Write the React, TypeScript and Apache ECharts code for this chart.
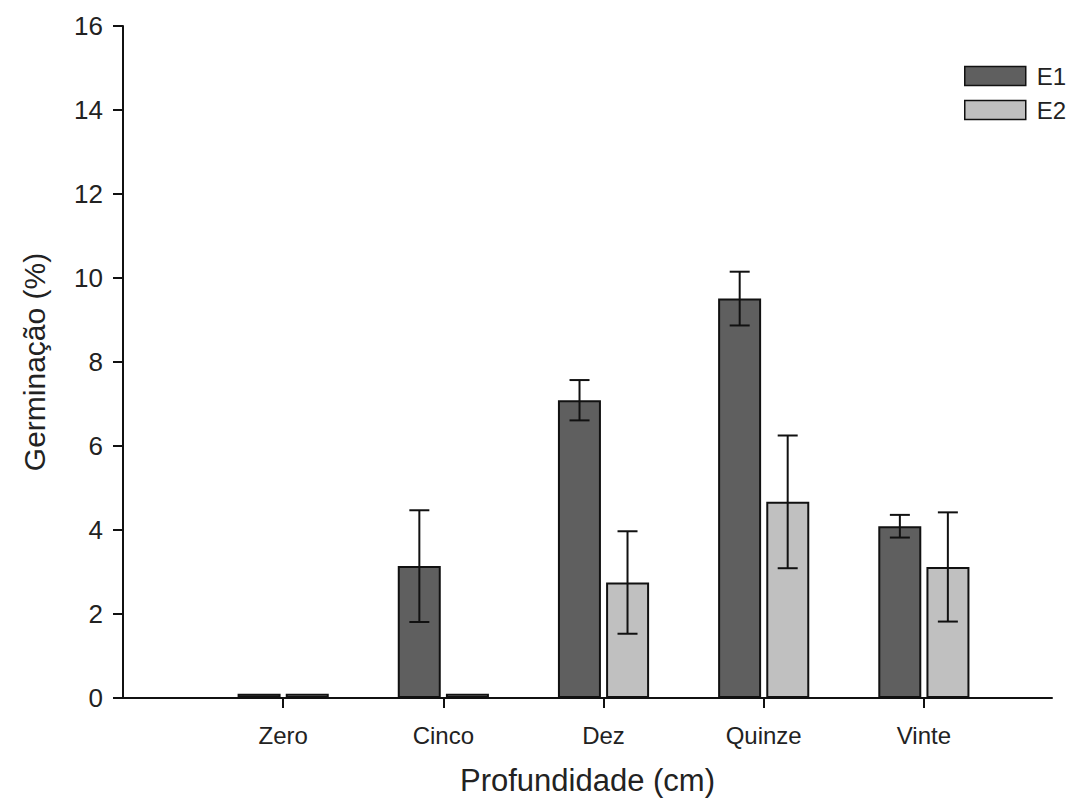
import React, { useEffect, useRef } from "react";
import * as echarts from "echarts";

const categories = ["Zero", "Cinco", "Dez", "Quinze", "Vinte"];
const e1Mean = [0.1, 3.14, 7.09, 9.51, 4.09];
const e1Err = [0, 1.33, 0.48, 0.64, 0.27];
const e2Mean = [0.1, 0.1, 2.75, 4.67, 3.12];
const e2Err = [0, 0, 1.22, 1.58, 1.3];
const catPositions = [1, 2, 3, 4, 5];
const yTicks = [0, 2, 4, 6, 8, 10, 12, 14, 16];

const FONT = "'Liberation Sans', Arial, sans-serif";

export default function App() {
  const ref = useRef<HTMLDivElement>(null);
  useEffect(() => {
    if (!ref.current) return;
    const chart = echarts.init(ref.current, undefined, { renderer: "svg" });

    const errData = (means: number[], errs: number[], off: number) =>
      means.map((m, i) => [catPositions[i], m, errs[i], off]);

    const renderErr = (params: any, api: any) => {
      const x = api.value(0);
      const m = api.value(1);
      const e = api.value(2);
      const off = api.value(3);
      if (!e) return null;
      const top = api.coord([x, m + e]);
      const bot = api.coord([x, m - e]);
      const cx = top[0] + off;
      const half = 10;
      const style = { stroke: "#111", lineWidth: 2 };
      return {
        type: "group",
        children: [
          { type: "line", shape: { x1: cx, y1: top[1], x2: cx, y2: bot[1] }, style },
          { type: "line", shape: { x1: cx - half, y1: top[1], x2: cx + half, y2: top[1] }, style },
          { type: "line", shape: { x1: cx - half, y1: bot[1], x2: cx + half, y2: bot[1] }, style },
        ],
      };
    };

    chart.setOption({
      animation: false,
      backgroundColor: "#fff",
      textStyle: { fontFamily: FONT },
      grid: { left: 123, right: 21, top: 26, bottom: 108 },
      legend: {
        orient: "vertical",
        left: 964,
        top: 64,
        padding: 0,
        itemWidth: 61,
        itemHeight: 19,
        itemGap: 10,
        icon: "rect",
        textStyle: { fontSize: 24, color: "#222", fontFamily: FONT, padding: [0, 0, 0, 6] },
        data: [
          { name: "E1", itemStyle: { color: "#5f5f5f", borderColor: "#111", borderWidth: 1.5 } },
          { name: "E2", itemStyle: { color: "#c0c0c0", borderColor: "#111", borderWidth: 1.5 } },
        ],
      },
      xAxis: {
        type: "value",
        min: 0,
        max: 5.8,
        splitLine: { show: false },
        axisLine: { show: true, lineStyle: { color: "#111", width: 2 } },
        axisTick: {
          show: true,
          customValues: catPositions,
          length: 10,
          lineStyle: { color: "#111", width: 2 },
        },
        axisLabel: {
          customValues: catPositions,
          formatter: (v: number) => categories[Math.round(v) - 1] ?? "",
          fontSize: 24,
          color: "#222",
          margin: 25,
          fontFamily: FONT,
        },
        name: "Profundidade (cm)",
        nameLocation: "middle",
        nameGap: 67,
        nameTextStyle: { fontSize: 31, color: "#222", fontFamily: FONT },
      },
      yAxis: {
        type: "value",
        min: 0,
        max: 16,
        interval: 2,
        splitLine: { show: false },
        axisLine: { show: true, lineStyle: { color: "#111", width: 2 } },
        axisTick: { show: true, length: 10, lineStyle: { color: "#111", width: 2 } },
        axisLabel: {
          customValues: yTicks,
          fontSize: 26,
          color: "#222",
          margin: 20,
          fontFamily: FONT,
        },
        name: "Germinação (%)",
        nameLocation: "middle",
        nameGap: 74,
        nameTextStyle: { fontSize: 30, color: "#222", fontFamily: FONT },
      },
      series: [
        {
          name: "E1",
          type: "bar",
          barWidth: 43,
          barGap: "12%",
          data: e1Mean.map((m, i) => [catPositions[i], m]),
          itemStyle: { color: "#5f5f5f", borderColor: "#111", borderWidth: 2 },
        },
        {
          name: "E2",
          type: "bar",
          barWidth: 43,
          barGap: "12%",
          data: e2Mean.map((m, i) => [catPositions[i], m]),
          itemStyle: { color: "#c0c0c0", borderColor: "#111", borderWidth: 2 },
        },
        {
          name: "E1err",
          type: "custom",
          renderItem: renderErr,
          data: errData(e1Mean, e1Err, -24),
          encode: { x: 0, y: 1 },
          z: 5,
        },
        {
          name: "E2err",
          type: "custom",
          renderItem: renderErr,
          data: errData(e2Mean, e2Err, 24),
          encode: { x: 0, y: 1 },
          z: 5,
        },
      ],
    });
    return () => chart.dispose();
  }, []);
  return (
    <div
      ref={ref}
      style={{ position: "fixed", left: 0, top: 0, width: 1073, height: 806 }}
    />
  );
}
